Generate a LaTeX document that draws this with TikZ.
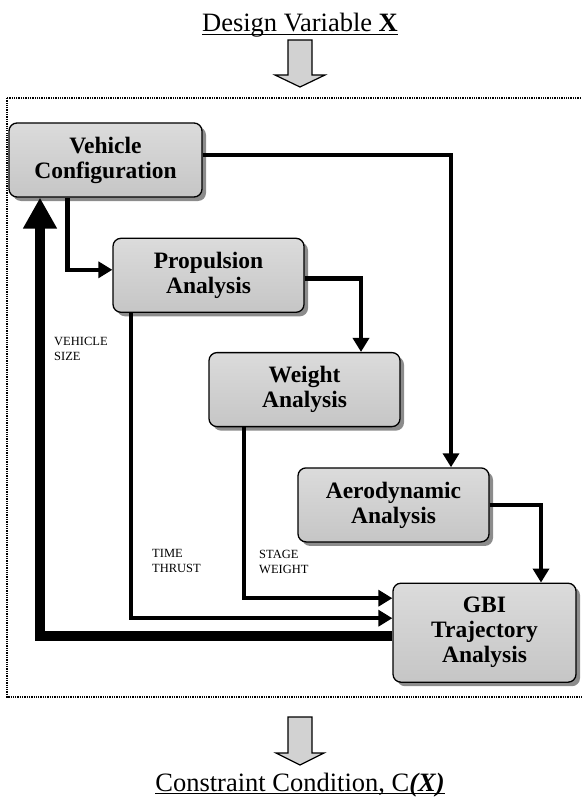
\documentclass[tikz,border=0pt]{standalone}
\usepackage{fontspec}
\setmainfont{Liberation Serif}
\usetikzlibrary{arrows.meta,positioning,shadows}

\begin{document}
\begin{tikzpicture}[x=1pt,y=-1pt,
  box/.style={rectangle,rounded corners=8pt,draw,line width=1.3pt,align=center,
    top color=gray!28,middle color=white,bottom color=gray!45,
    drop shadow={shadow xshift=4pt,shadow yshift=-4pt,fill=gray!90,opacity=1},
    minimum width=191pt,minimum height=74pt,inner sep=2pt,
    font=\fontsize{23.5}{25}\selectfont\bfseries},
  link/.style={-{Triangle[length=14pt,width=16pt]},line width=4.5pt},
  feedback/.style={-{Triangle[length=31pt,width=32pt]},line width=10pt},
  tag/.style={align=left,inner sep=0pt,font=\fontsize{12.5}{15}\selectfont},
  heading/.style={inner sep=0pt,font=\fontsize{26.5}{30}\selectfont},
  hollow/.style={draw,line width=1.2pt,fill=gray!35,line join=miter}]

  \useasboundingbox (0,0) rectangle (581,797);
  \draw[densely dotted,line width=1.3pt] (7,98) rectangle (600,697);

  \node[heading,anchor=base] (design) at (300,32) {Design Variable \textbf{X}};
  \draw[line width=1.2pt] ([yshift=-2.5pt]design.base west) -- ([yshift=-2.5pt]design.base east);
  \draw[hollow] (288,40) -- ++(24,0) -- ++(0,35) -- ++(13,0) -- ++(-25,12) -- ++(-25,-12) -- ++(13,0) -- cycle;

  \node[box,minimum width=193pt] (vehicle) at (105.5,160) {Vehicle\\Configuration};
  \node[box,below=40pt of vehicle.south west,anchor=north west,xshift=104pt] (propulsion) {Propulsion\\Analysis};
  \node[box,below=39pt of propulsion.south west,anchor=north west,xshift=96pt] (weight) {Weight\\Analysis};
  \node[box,below=40pt of weight.south west,anchor=north west,xshift=89pt] (aero) {Aerodynamic\\Analysis};
  \node[box,below=40pt of aero.south west,anchor=north west,xshift=95pt,
    minimum width=183pt,minimum height=99pt] (gbi) {GBI\\Trajectory\\Analysis};

  \draw[link] ([yshift=5pt]vehicle.east) -| ([xshift=57.5pt]aero.north);
  \draw[link] ([xshift=-38pt]vehicle.south) |- ([yshift=5.5pt]propulsion.west);
  \draw[link] ([yshift=-3pt]propulsion.east) -| ([xshift=56.5pt]weight.north);
  \draw[link] (aero.east) -| ([xshift=56.5pt]gbi.north);
  \draw[link] ([xshift=-60.5pt]weight.south) |- ([yshift=34.5pt]gbi.west);
  \draw[link] ([xshift=-77.5pt]propulsion.south) |- ([yshift=14.5pt]gbi.west);
  \draw[feedback] ([yshift=-3pt]gbi.west) -| ([xshift=-65.5pt]vehicle.south);

  \node[tag,anchor=base west] (size) at (54,360) {VEHICLE\\SIZE};
  \node[tag,anchor=base west] (thrust) at (152,572) {TIME\\THRUST};
  \node[tag,anchor=base west] (stage) at (259,573) {STAGE\\WEIGHT};

  \draw[hollow] (288,717) -- ++(24,0) -- ++(0,36) -- ++(12,0) -- ++(-24,12) -- ++(-24,-12) -- ++(12,0) -- cycle;
  \node[heading,anchor=base] (constraint) at (300,791) {Constraint Condition, C\textbf{\textit{(X)}}};
  \draw[line width=1.2pt] ([yshift=-2.5pt]constraint.base west) -- ([yshift=-2.5pt]constraint.base east);
\end{tikzpicture}
\end{document}
